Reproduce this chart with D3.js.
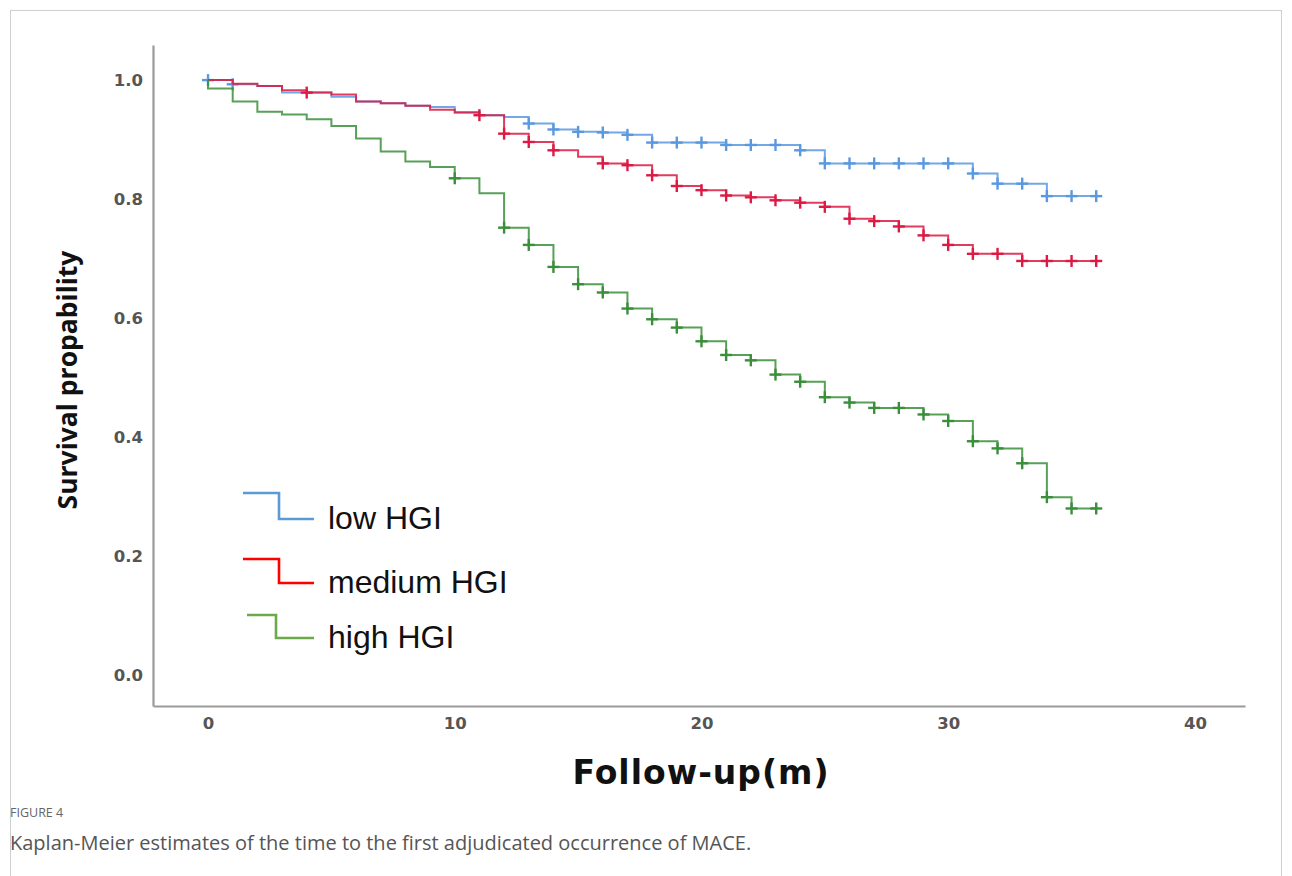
<!DOCTYPE html>
<html>
<head>
<meta charset="utf-8">
<script src="https://cdn.jsdelivr.net/npm/d3@7"></script>
<style>
  html, body { margin: 0; padding: 0; background: #fff; }
  svg { display: block; }
</style>
</head>
<body>
<svg id="chart" width="1292" height="876"></svg>
<script>
// ---- data ----
const months = d3.range(0, 37); // 0..36
const seriesNames = ["low HGI", "medium HGI", "high HGI"];
const lowHGI = [1.000,0.993,0.990,0.979,0.979,0.972,0.964,0.961,0.957,0.955,0.945,0.941,0.938,0.927,0.917,0.913,0.912,0.908,0.895,0.895,0.895,0.891,0.891,0.891,0.882,0.860,0.860,0.860,0.860,0.860,0.860,0.843,0.826,0.826,0.805,0.805,0.805];
const mediumHGI = [1.000,0.994,0.990,0.983,0.979,0.976,0.964,0.961,0.957,0.950,0.946,0.941,0.910,0.896,0.882,0.871,0.860,0.857,0.840,0.822,0.815,0.806,0.803,0.798,0.794,0.787,0.767,0.763,0.754,0.739,0.723,0.708,0.708,0.696,0.696,0.696,0.696];
const highHGI = [0.986,0.964,0.947,0.942,0.934,0.923,0.902,0.880,0.863,0.854,0.835,0.810,0.752,0.723,0.686,0.657,0.643,0.616,0.598,0.584,0.561,0.538,0.529,0.505,0.493,0.467,0.458,0.449,0.449,0.438,0.427,0.393,0.381,0.356,0.299,0.280,0.280];
const lowCensor = [0,1,13,14,15,16,17,18,19,20,21,22,23,24,25,26,27,28,29,30,31,32,33,34,35,36];
const mediumCensor = [4,11,12,13,14,16,17,18,19,20,21,22,23,24,25,26,27,28,29,30,31,32,33,34,35,36];
const highCensor = [10,12,13,14,15,16,17,18,19,20,21,22,23,24,25,26,27,28,29,30,31,32,33,34,35,36];
const yTicks = [0.0, 0.2, 0.4, 0.6, 0.8, 1.0];
const xTicks = [0, 10, 20, 30, 40];

// ---- styles ----
const lineColors = ["#5a98e0", "#dc1a44", "#3a8f3a"];
const legendColors = ["#5b9bd5", "#ff0000", "#6aaa4a"];

const svg = d3.select("#chart");

// outer frame
svg.append("rect").attr("x", 10.5).attr("y", 10.5).attr("width", 1271).attr("height", 880)
  .attr("fill", "none").attr("stroke", "#cfcfcf").attr("stroke-width", 1);

const x = d3.scaleLinear().domain([-2.23, 42.03]).range([153, 1245]);
const y = d3.scaleLinear().domain([-0.052, 1.059]).range([706, 45]);

// axes
const yAxis = svg.append("g").attr("transform", "translate(153,0)")
  .call(d3.axisLeft(y).tickValues(yTicks).tickFormat(d3.format(".1f")).tickSize(0).tickPadding(10));
const xAxis = svg.append("g").attr("transform", "translate(0,706)")
  .call(d3.axisBottom(x).tickValues(xTicks).tickFormat(d3.format("d")).tickSize(0).tickPadding(11));
[yAxis, xAxis].forEach(g => {
  g.select(".domain").attr("stroke", "#9a9a9a").attr("stroke-width", 2.2);
  g.selectAll("text").attr("font-family", "DejaVu Sans").attr("font-weight", "bold")
    .attr("font-size", 16.5).attr("fill", "#555");
});

// step curves
const allSeries = [lowHGI, mediumHGI, highHGI];
const allCensor = [lowCensor, mediumCensor, highCensor];
const line = d3.line().x(d => x(d[0])).y(d => y(d[1])).curve(d3.curveStepAfter);

allSeries.forEach((vals, i) => {
  const pts = [[0, 1.0]].concat(months.map((m, j) => [m, vals[j]]));
  svg.append("path").datum(pts).attr("d", line)
    .attr("fill", "none").attr("stroke", lineColors[i]).attr("stroke-width", 2)
    .attr("stroke-opacity", 0.85);
  const cg = svg.append("g");
  allCensor[i].forEach(t => {
    const cx = x(t), cy = y(vals[months.indexOf(t)]);
    cg.append("line").attr("x1", cx - 6).attr("x2", cx + 6).attr("y1", cy).attr("y2", cy)
      .attr("stroke", lineColors[i]).attr("stroke-width", 2.4);
    cg.append("line").attr("x1", cx).attr("x2", cx).attr("y1", cy - 6).attr("y2", cy + 6)
      .attr("stroke", lineColors[i]).attr("stroke-width", 2.4);
  });
});

// legend
const legendRows = [
  {top: 493, bot: 519, x0: 243, xm: 279, baseline: 529},
  {top: 559, bot: 583, x0: 243, xm: 279, baseline: 593},
  {top: 615, bot: 638, x0: 247, xm: 276, baseline: 648}
];
legendRows.forEach((r, i) => {
  svg.append("path")
    .attr("d", `M${r.x0},${r.top}H${r.xm}V${r.bot}H314`)
    .attr("fill", "none").attr("stroke", legendColors[i]).attr("stroke-width", 2.6);
  svg.append("text").attr("x", 328).attr("y", r.baseline)
    .attr("font-family", "Liberation Sans, Arial, sans-serif").attr("font-size", 32)
    .attr("fill", "#111").text(seriesNames[i]);
});

// axis titles
svg.append("text").attr("transform", "translate(77,380) rotate(-90)")
  .attr("text-anchor", "middle").attr("font-family", "Open Sans").attr("font-weight", "bold")
  .attr("font-size", 26.5).attr("fill", "#111").text("Survival propability");
svg.append("text").attr("x", 701).attr("y", 784)
  .attr("text-anchor", "middle").attr("font-family", "DejaVu Sans").attr("font-weight", "bold")
  .attr("font-size", 33).attr("letter-spacing", 1).attr("fill", "#111").text("Follow-up(m)");

// caption
svg.append("text").attr("x", 10).attr("y", 817)
  .attr("font-family", "Open Sans").attr("font-size", 12.5).attr("fill", "#666").text("FIGURE 4");
svg.append("text").attr("x", 10).attr("y", 850)
  .attr("font-family", "Open Sans").attr("font-size", 20).attr("fill", "#555")
  .text("Kaplan-Meier estimates of the time to the first adjudicated occurrence of MACE.");
</script>
</body>
</html>
